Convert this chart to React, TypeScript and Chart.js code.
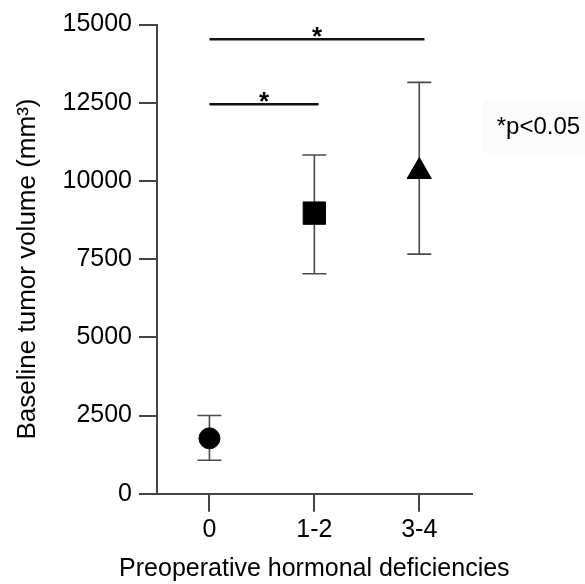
import React, { useEffect, useRef } from "react";
import { Chart, registerables } from "chart.js";

Chart.register(...registerables);

const categories = ["0", "1-2", "3-4"];
const categoryIndex = [0, 1, 2];
const means = [1770, 8970, 10300];
const upperErr = [2500, 10830, 13150];
const lowerErr = [1070, 7030, 7660];
const markerStyles = ["circle", "rect", "triangle"];
const markerRadii = [10.5, 15.8, 14];

const yTicksMin = 0;
const yTicksMax = 15000;
const yTickStep = 2500;

const sigLineY = [12450, 14530];
const sigFrom = [0, 0];
const sigTo = [1.04, 2.05];
const sigLabel = ["*", "*"];
const noteText = "*p<0.05";
const xTitle = "Preoperative hormonal deficiencies";
const yTitle = "Baseline tumor volume (mm³)";

const FONT = "Arial, Helvetica, sans-serif";
const AXIS_COLOR = "#444444";

const overlayPlugin = {
  id: "overlay",
  beforeDatasetsDraw(chart: any) {
    const { ctx, scales } = chart;
    const x = scales.x;
    const y = scales.y;
    ctx.save();
    ctx.strokeStyle = "#4a4a4a";
    ctx.lineWidth = 1.6;
    for (let i = 0; i < means.length; i++) {
      const px = x.getPixelForValue(categoryIndex[i]);
      const pu = y.getPixelForValue(upperErr[i]);
      const pl = y.getPixelForValue(lowerErr[i]);
      ctx.beginPath();
      ctx.moveTo(px, pu);
      ctx.lineTo(px, pl);
      ctx.moveTo(px - 12, pu);
      ctx.lineTo(px + 12, pu);
      ctx.moveTo(px - 12, pl);
      ctx.lineTo(px + 12, pl);
      ctx.stroke();
    }
    ctx.restore();
  },
  afterDatasetsDraw(chart: any) {
    const { ctx, scales, chartArea } = chart;
    const x = scales.x;
    const y = scales.y;
    ctx.save();
    ctx.strokeStyle = "#111111";
    ctx.lineWidth = 2.5;
    ctx.fillStyle = "#000000";
    ctx.font = `bold 26px ${FONT}`;
    ctx.textAlign = "center";
    ctx.textBaseline = "alphabetic";
    for (let i = 0; i < sigLineY.length; i++) {
      const x1 = x.getPixelForValue(sigFrom[i]);
      const x2 = x.getPixelForValue(sigTo[i]);
      const py = y.getPixelForValue(sigLineY[i]);
      ctx.beginPath();
      ctx.moveTo(x1, py);
      ctx.lineTo(x2, py);
      ctx.stroke();
      ctx.fillText(sigLabel[i], (x1 + x2) / 2, py + 6);
    }
    // note box
    const nx = chartArea.right + 25;
    ctx.fillStyle = "#fbfbfb";
    ctx.fillRect(chartArea.right + 11, 100, 113, 53);
    ctx.fillStyle = "#000000";
    ctx.font = `24px ${FONT}`;
    ctx.textAlign = "left";
    ctx.fillText(noteText, nx, 134);
    // x axis title
    ctx.font = `25px ${FONT}`;
    ctx.textAlign = "center";
    ctx.textBaseline = "middle";
    ctx.fillText(xTitle, (chartArea.left + chartArea.right) / 2, 569);
    // y axis title
    ctx.save();
    ctx.translate(28, 269);
    ctx.rotate(-Math.PI / 2);
    ctx.font = `26px ${FONT}`;
    ctx.fillText(yTitle, 0, 0);
    ctx.restore();
    ctx.restore();
  },
};

export default function App() {
  const ref = useRef<HTMLCanvasElement | null>(null);
  useEffect(() => {
    if (!ref.current) return;
    const chart = new Chart(ref.current, {
      type: "scatter",
      data: {
        datasets: [
          {
            data: means.map((m, i) => ({ x: categoryIndex[i], y: m })),
            pointStyle: markerStyles as any,
            pointRadius: markerRadii,
            pointBackgroundColor: "#000000",
            pointBorderColor: "#000000",
            pointBorderWidth: 1,
            showLine: false,
          },
        ],
      },
      plugins: [overlayPlugin],
      options: {
        animation: false,
        responsive: false,
        events: [],
        layout: { padding: { top: 24.5, right: 113.3, left: 0, bottom: 0 } },
        plugins: {
          legend: { display: false },
          tooltip: { enabled: false },
        },
        scales: {
          x: {
            type: "linear",
            min: -0.5,
            max: 2.5,
            afterBuildTicks: (s: any) => {
              s.ticks = categoryIndex.map((v) => ({ value: v }));
            },
            afterFit: (s: any) => {
              s.height = 90.3;
            },
            grid: {
              drawOnChartArea: false,
              drawTicks: true,
              tickLength: 18,
              lineWidth: 2,
              color: AXIS_COLOR,
            },
            border: { display: true, width: 2, color: AXIS_COLOR },
            ticks: {
              color: "#000000",
              font: { family: FONT, size: 25 },
              padding: 3,
              maxRotation: 0,
              callback: (v: any) => categories[Number(v)] ?? "",
            },
            title: { display: false },
          },
          y: {
            type: "linear",
            min: yTicksMin,
            max: yTicksMax,
            afterFit: (s: any) => {
              s.width = 157;
            },
            grid: {
              drawOnChartArea: false,
              drawTicks: true,
              tickLength: 18,
              lineWidth: 2,
              color: AXIS_COLOR,
            },
            border: { display: true, width: 2, color: AXIS_COLOR },
            ticks: {
              stepSize: yTickStep,
              color: "#000000",
              font: { family: FONT, size: 25 },
              padding: 7,
              callback: (v: any) => String(v),
            },
            title: { display: false },
          },
        },
      },
    });
    return () => chart.destroy();
  }, []);
  return (
    <div style={{ position: "absolute", left: 0, top: 0, width: 585, height: 584 }}>
      <canvas ref={ref} width={585} height={584} style={{ display: "block" }} />
    </div>
  );
}
